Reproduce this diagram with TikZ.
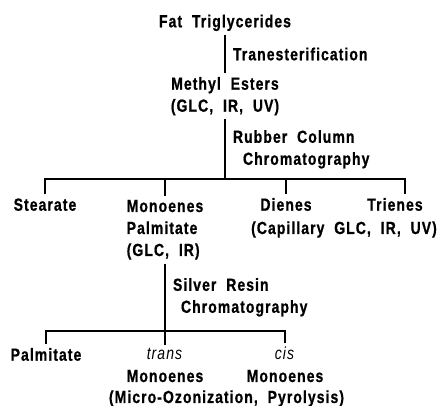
\documentclass[tikz,border=0pt]{standalone}
\usepackage{fontspec}
\setmainfont{Liberation Sans}[FakeStretch=0.8,LetterSpace=6,WordSpace=2,BoldFeatures={FakeBold=0.8}]
\begin{document}
\begin{tikzpicture}[x=1pt,y=-1pt,
  every node/.style={font=\fontsize{17.5}{22}\selectfont\bfseries},
  compound/.style={inner sep=2pt,outer sep=2pt,align=center,anchor=base},
  method/.style={right=8pt,inner sep=0pt,outer sep=0pt,align=left},
  branch/.style={line width=2.6pt},
  tie/.style={line width=2.2pt}]
  \useasboundingbox (0,0) rectangle (440,406);

  % esters
  \node [compound] (fat) at (225,27.3) {Fat Triglycerides};
  \node [compound] (esters) at (225,111.7) {Methyl Esters\\(GLC, IR, UV)};
  \draw [branch] (fat) -- node [method] {Tranesterification} (esters);

  % rubber column
  \coordinate (fork1) at (225,179.3);
  \node [compound] (stearate) at (45,210.7) {Stearate};
  \node [compound,align=left] (monoenes) at (165,256) {Monoenes\\Palmitate\\(GLC, IR)};
  \node [compound] (dienes) at (286,210.7) {Dienes};
  \node [compound] (trienes) at (395,210.7) {Trienes};
  \node [compound] (capillary) at (344,234) {(Capillary GLC, IR, UV)};
  \draw [branch] (esters) -- node [method] {Rubber Column\\\hspace*{10pt}Chromatography} (fork1);
  \draw [tie] (stearate) |- (fork1) -| ([xshift=10pt]trienes.north);
  \draw [tie] (monoenes) -- (monoenes |- fork1);
  \draw [tie] (dienes) -- (dienes |- fork1);

  % silver resin
  \coordinate (fork2) at (165,331);
  \node [compound] (palmitate) at (46,360.7) {Palmitate};
  \node [compound] (trans) at (165,382) {\textit{\mdseries trans}\\Monoenes};
  \node [compound] (cis) at (285,382) {\textit{\mdseries cis}\\Monoenes};
  \node [compound] (pyrolysis) at (226.5,403) {(Micro-Ozonization, Pyrolysis)};
  \draw [branch] (monoenes) -- node [method] {Silver Resin\\\hspace*{8pt}Chromatography} (fork2);
  \draw [tie] (palmitate) |- (fork2) -| (cis);
  \draw [tie] (trans) -- (trans |- fork2);
\end{tikzpicture}
\end{document}
